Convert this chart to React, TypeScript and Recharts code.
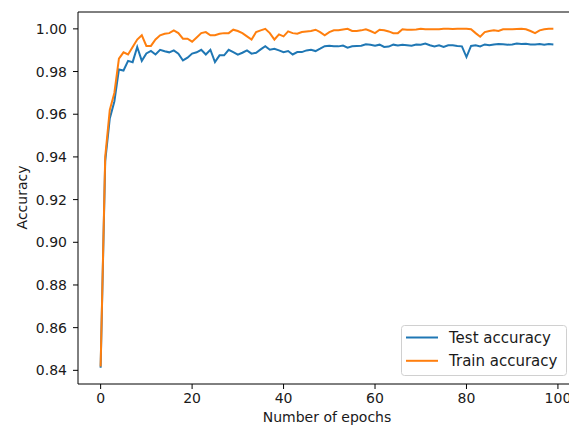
import React from 'react';
import { LineChart, Line, XAxis, YAxis, Legend, ReferenceLine } from 'recharts';

const epochs: number[] = Array.from({ length: 100 }, (_, i) => i);

const testAccuracy: number[] = [
  0.8412, 0.938, 0.958, 0.966, 0.981, 0.9805, 0.985, 0.9844, 0.9915, 0.985,
  0.9885, 0.9897, 0.988, 0.9902, 0.9895, 0.989, 0.9899, 0.9884, 0.9852, 0.9865,
  0.9884, 0.989, 0.9902, 0.988, 0.9902, 0.9844, 0.9876, 0.9876, 0.9902, 0.9891,
  0.9879, 0.9888, 0.9899, 0.9884, 0.9888, 0.9904, 0.9919, 0.9902, 0.9907, 0.9899,
  0.9891, 0.9896, 0.988, 0.9891, 0.9891, 0.9899, 0.9902, 0.9896, 0.9907, 0.9919,
  0.9921, 0.9918, 0.9918, 0.9922, 0.9912, 0.9918, 0.992, 0.9921, 0.9928, 0.9926,
  0.9921, 0.9926, 0.9915, 0.9917, 0.9926, 0.9922, 0.9925, 0.9923, 0.9921, 0.9927,
  0.9926, 0.9931, 0.9923, 0.9918, 0.9923, 0.9915, 0.9923, 0.9923, 0.992, 0.9918,
  0.9868, 0.992, 0.9923, 0.9918, 0.9927, 0.9923, 0.9927, 0.9929, 0.9928, 0.9926,
  0.9927, 0.9931, 0.9929, 0.993, 0.9927, 0.9927, 0.9929, 0.9926, 0.9929, 0.9927,
];

const trainAccuracy: number[] = [
  0.8418, 0.94, 0.962, 0.97, 0.986, 0.989, 0.988, 0.9915, 0.995, 0.997,
  0.992, 0.992, 0.995, 0.997, 0.9977, 0.998, 0.9993, 0.998, 0.9954, 0.9954,
  0.994, 0.996, 0.998, 0.9985, 0.997, 0.997, 0.9977, 0.998, 0.998, 0.9996,
  0.999, 0.998, 0.9965, 0.995, 0.9985, 0.9993, 1.0, 0.998, 0.995, 0.9974,
  0.9965, 0.9988, 0.998, 0.9977, 0.9985, 0.9988, 0.999, 0.9996, 0.9985, 0.997,
  0.9985, 0.9993, 0.9993, 0.9997, 1.0, 0.999, 0.999, 0.9993, 0.9998, 0.999,
  0.998, 0.9996, 0.9993, 0.9988, 0.998, 0.998, 0.9998, 0.9996, 0.9996, 0.9997,
  1.0, 0.9998, 0.9998, 0.9998, 0.9998, 1.0, 1.0, 0.9999, 1.0, 1.0,
  1.0, 0.9998, 0.998, 0.9963, 0.9985, 0.999, 0.9993, 0.999, 0.9998, 0.9998,
  0.9998, 0.9999, 1.0, 0.9998, 0.999, 0.998, 0.9993, 0.9998, 1.0, 1.0,
];

const xTicks: number[] = [0, 20, 40, 60, 80, 100];
const yTicks: number[] = [0.84, 0.86, 0.88, 0.9, 0.92, 0.94, 0.96, 0.98, 1.0];

const seriesNames = { test: 'Test accuracy', train: 'Train accuracy' };
const BLUE = '#1f77b4';
const ORANGE = '#ff7f0e';
const FONT = '"DejaVu Sans", sans-serif';
const TEXT = '#1a1a1a';
const Y_MAX = 1.0079;

const data = epochs.map((e, i) => ({ epoch: e, test: testAccuracy[i], train: trainAccuracy[i] }));

const renderLegend = (props: any) => {
  const payload = props.payload || [];
  return (
    <svg width={166} height={52} style={{ display: 'block' }}>
      <rect x={0.5} y={0.5} width={165} height={50} rx={3} ry={3} fill="rgba(255,255,255,0.8)" stroke="#d0d0d0" strokeWidth={1} />
      {payload.map((p: any, i: number) => (
        <g key={i}>
          <line x1={5} x2={37} y1={12.5 + i * 23.3} y2={12.5 + i * 23.3} stroke={p.color} strokeWidth={2} />
          <text x={48} y={18 + i * 22.5} fontFamily={FONT} fontSize={15} fill={TEXT}>{p.value}</text>
        </g>
      ))}
    </svg>
  );
};

const YLabel = () => (
  <text x={26.5} y={197.5} transform="rotate(-90 26.5 197.5)" textAnchor="middle" fontFamily={FONT} fontSize={14} fill={TEXT}>
    Accuracy
  </text>
);

export default function App() {
  return (
    <div style={{ position: 'absolute', left: 0, top: 0, width: 569, height: 426, overflow: 'hidden', background: '#fff' }}>
      <LineChart width={590} height={426} data={data} margin={{ top: 12, right: 14, bottom: 0, left: 0 }}>
        <XAxis
          dataKey="epoch"
          type="number"
          domain={[-4.95, 103.95]}
          ticks={xTicks}
          allowDataOverflow
          height={42}
          tickSize={5}
          tickMargin={4}
          stroke="#000"
          tick={{ fill: TEXT, fontSize: 14, fontFamily: FONT }}
          label={{ value: 'Number of epochs', position: 'insideBottom', offset: 4, fill: TEXT, fontSize: 14, fontFamily: FONT }}
        />
        <YAxis
          type="number"
          domain={[0.8336, Y_MAX]}
          ticks={yTicks}
          allowDataOverflow
          width={78}
          tickSize={5}
          tickMargin={6}
          stroke="#000"
          tickFormatter={(v: number) => v.toFixed(2)}
          tick={{ fill: TEXT, fontSize: 14, fontFamily: FONT }}
          label={{ content: () => <YLabel /> }}
        />
        <ReferenceLine y={Y_MAX} stroke="#000" strokeWidth={1} ifOverflow="visible" />
        <Legend
          layout="horizontal"
          verticalAlign="middle"
          align="center"
          content={renderLegend}
          wrapperStyle={{ position: 'absolute', left: 401, top: 324.5, width: 166, height: 52 }}
        />
        <Line dataKey="test" name={seriesNames.test} stroke={BLUE} strokeWidth={2} dot={false} isAnimationActive={false} />
        <Line dataKey="train" name={seriesNames.train} stroke={ORANGE} strokeWidth={2} dot={false} isAnimationActive={false} />
      </LineChart>
    </div>
  );
}
